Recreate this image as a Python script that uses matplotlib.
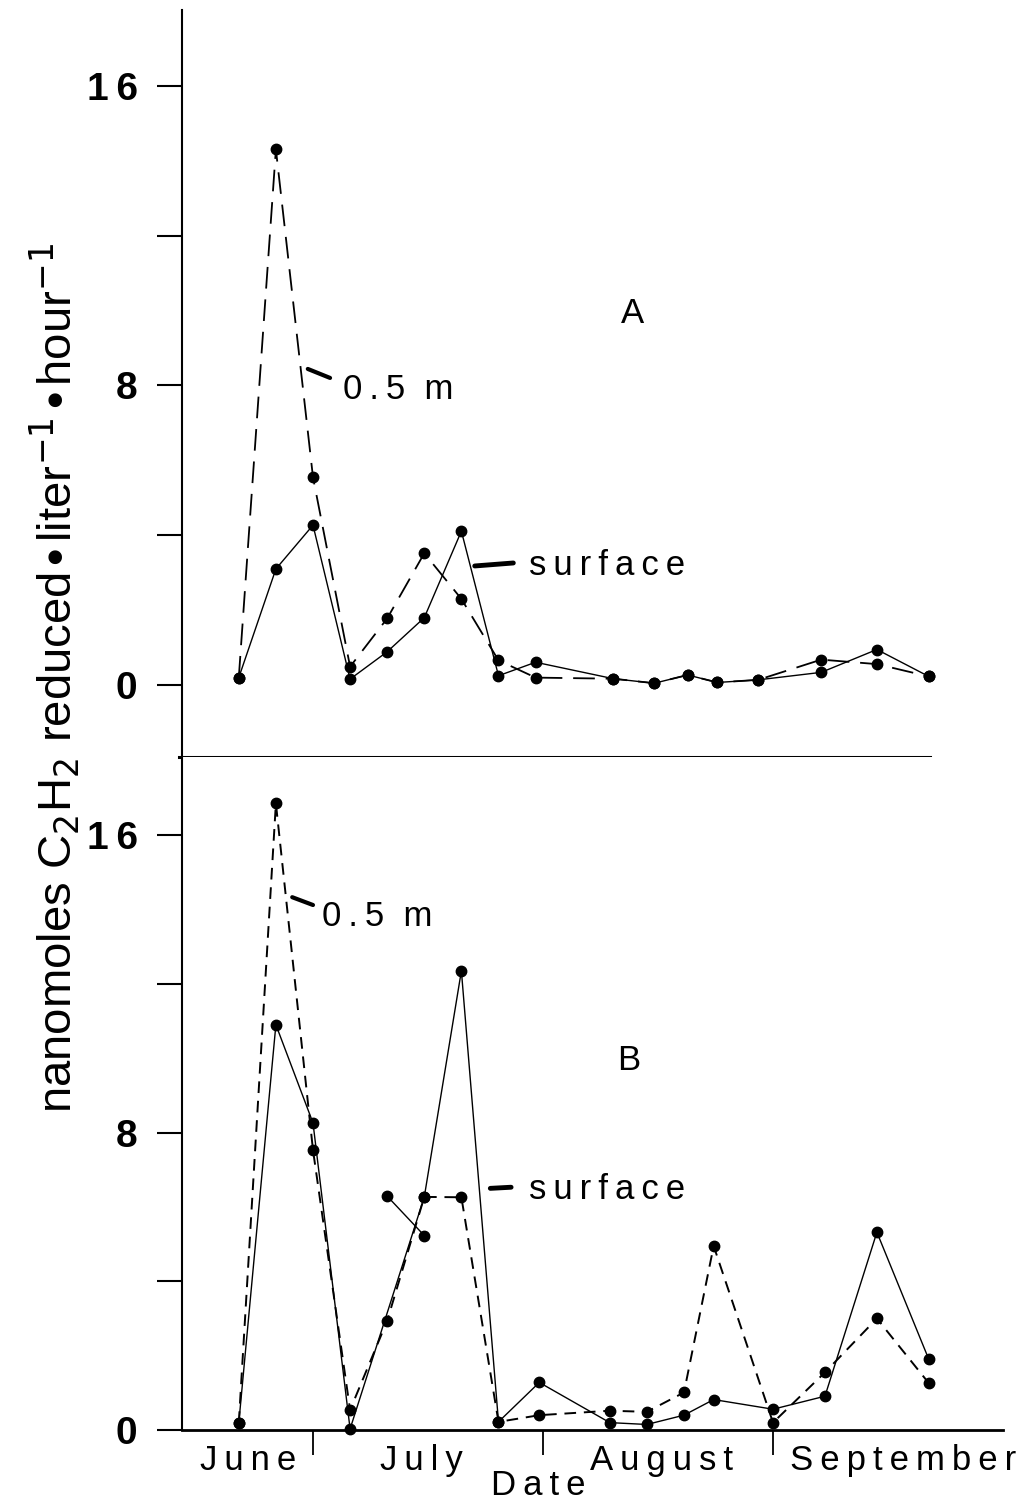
import matplotlib
matplotlib.use("Agg")
import matplotlib.pyplot as plt

plt.rcParams['font.family'] = ['Liberation Sans', 'DejaVu Sans']

# days counted from June 1
days_a = [20, 25, 30, 35, 40, 45, 50, 55, 60, 70.5, 76, 80.5, 84.5, 90, 98.5, 106, 113]
surf_a = [0.2, 3.1, 4.27, 0.16, 0.89, 1.8, 4.11, 0.25, 0.61, 0.17, 0.05, 0.27, 0.07, 0.14, 0.34, 0.95, 0.23]
half_a = [0.2, 14.3, 5.55, 0.49, 1.78, 3.52, 2.3, 0.66, 0.2, 0.17, 0.05, 0.27, 0.07, 0.14, 0.68, 0.56, 0.23]

days_b = [20, 25, 30, 35, 40, 45, 50, 55, 60.5, 70, 75, 80, 84, 92, 99, 106, 113]
half_b = [0.19, 16.85, 7.53, 0.54, 2.94, 6.27, 6.26, 0.22, 0.4, 0.52, 0.49, 1.01, 4.95, 0.2, 1.55, 3.0, 1.26]
surf_days_b = [20, 25, 30, 35, 45, 50, 55, 60.5, 70, 75, 80, 84, 92, 99, 106, 113]
surf_b = [0.19, 10.9, 8.26, 0.03, 6.27, 12.35, 0.22, 1.28, 0.2, 0.15, 0.4, 0.82, 0.56, 0.91, 5.32, 1.9]
extra_days_b = [40, 45]
extra_b = [6.29, 5.23]

months = ['June', 'July', 'August', 'September']
month_centers = [21.2, 44.6, 77.0, 109.5]
month_edges = [30, 61, 92]
yticks = [0, 4, 8, 12, 16]
ylabels = ['0', '', '8', '', '16']


def spaced(s):
    return '\u2009'.join(s)


fig = plt.figure(figsize=(10.29, 15.05), dpi=100)
axA = fig.add_axes([0.1769, 0.4970, 0.8231, 0.4963])
axB = fig.add_axes([0.1769, 0.0498, 0.8231, 0.4472])

mk = dict(marker='o', ms=7.5, mfc='black', mec='black', color='black', clip_on=False)

axA.plot(days_a, surf_a, lw=1.0, ls='-', **mk)
axA.plot(days_a, half_a, lw=1.3, ls=(0, (12, 6)), **mk)

axB.plot(surf_days_b, surf_b, lw=1.0, ls='-', **mk)
axB.plot(extra_days_b, extra_b, lw=1.0, ls='-', **mk)
axB.plot(days_b, half_b, lw=1.4, ls=(0, (6, 4)), **mk)

for ax in (axA, axB):
    ax.set_xlim(12.35, 126.5)
    ax.set_yticks(yticks)
    ax.set_yticklabels([spaced(l) for l in ylabels], fontsize=28, fontweight='bold')
    ax.tick_params(axis='y', direction='out', length=18, width=1.5, pad=14)
    ax.spines['right'].set_visible(False)
    ax.spines['top'].set_visible(False)
    ax.spines['left'].set_linewidth(1.5)

axA.set_ylim(-1.92, 18.02)
axA.set_xticks([])
axA.spines['bottom'].set_bounds(12.0, 113.2)
axA.spines['bottom'].set_linewidth(2.2)

axB.set_ylim(0, 18.1)
axB.set_xticks(month_edges)
axB.set_xticklabels([])
axB.tick_params(axis='x', direction='out', length=18, width=1.3)
axB.spines['bottom'].set_bounds(12.35, 123)
axB.spines['bottom'].set_linewidth(2.0)

tfont = dict(fontsize=25, family=['Liberation Sans', 'DejaVu Sans'])

for name, xc in zip(months, month_centers):
    axB.text(xc, -0.81, spaced(name), ha='center', va='center', clip_on=False, **tfont)
axB.text(60.3, -1.5, spaced('Date'), ha='center', va='center', clip_on=False, **tfont)

# panel labels and curve labels
axA.text(73.0, 9.93, 'A', ha='center', va='center', **tfont)
axB.text(72.5, 9.95, 'B', ha='center', va='center', **tfont)

axA.text(34.0, 7.88, spaced('0.5') + '  m', ha='left', va='center', **tfont)
axA.plot([29.3, 32.3], [8.44, 8.2], color='black', lw=3, solid_capstyle='round')
axA.text(59.1, 3.18, spaced('surface'), ha='left', va='center', **tfont)
axA.plot([51.8, 57.0], [3.18, 3.26], color='black', lw=3.5, solid_capstyle='round')

axB.text(31.2, 13.8, spaced('0.5') + '  m', ha='left', va='center', **tfont)
axB.plot([27.2, 30.0], [14.33, 14.12], color='black', lw=3, solid_capstyle='round')
axB.text(59.1, 6.48, spaced('surface'), ha='left', va='center', **tfont)
axB.plot([53.9, 56.7], [6.5, 6.53], color='black', lw=3.5, solid_capstyle='round')

fig.text(55 / 1029, 1 - 678 / 1505,
         r'nanomoles C$_2$H$_2$ reduced$\bullet$liter$^{-1}$$\bullet$hour$^{-1}$',
         rotation=90, ha='center', va='center', fontsize=34)

fig.savefig('out.png', dpi=100)
